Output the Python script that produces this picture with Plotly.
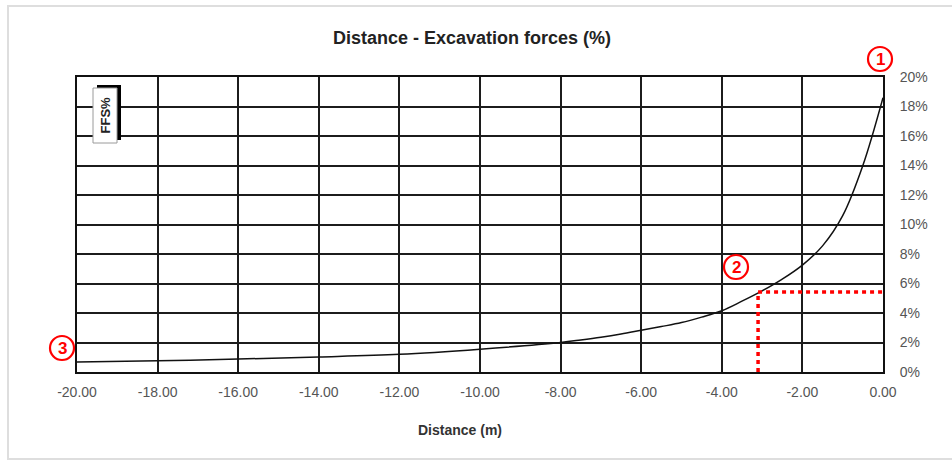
import plotly.graph_objects as go

# Excavation force ratio along the distance from the face
distance_m = [-20, -18, -16, -14, -12, -10, -8, -7.5, -7, -6.5, -6, -5.5,
              -5, -4.5, -4, -3.5, -3, -2.5, -2, -1.5, -1, -0.5, 0]
force_pct = [0.68, 0.76, 0.88, 1.02, 1.2, 1.55, 2.0, 2.17, 2.36, 2.58, 2.83,
             3.08, 3.35, 3.72, 4.15, 4.8, 5.5, 6.3, 7.25, 8.55, 10.6, 14.0,
             18.6]

x_ticks = [-20, -18, -16, -14, -12, -10, -8, -6, -4, -2, 0]
y_ticks = [0, 2, 4, 6, 8, 10, 12, 14, 16, 18, 20]

# Reading marker on the curve
read_x = -3.1
read_y = 5.42

W, H = 952, 462
L, R, T, B = 77, 69, 77, 90
PW, PH = W - L - R, H - T - B


def px(xp):
    return (xp - L) / PW


def py(yp):
    return (H - B - yp) / PH


FONT = "Liberation Sans, Arial, sans-serif"

fig = go.Figure()
fig.add_trace(go.Scatter(
    x=distance_m, y=force_pct, mode="lines",
    line=dict(color="#111111", width=1.5, shape="spline", smoothing=1.0),
    showlegend=False, hoverinfo="skip",
))

axis_common = dict(
    showgrid=True, gridcolor="#1c1c1c", gridwidth=1.6,
    showline=True, linecolor="#111111", linewidth=2, mirror=True,
    zeroline=False, ticks="", fixedrange=True,
    tickfont=dict(family=FONT, size=14, color="#555555"),
)

fig.update_xaxes(
    range=[-20, 0], tickvals=x_ticks,
    ticktext=[f"{v:.2f}" for v in x_ticks],
    ticklabelstandoff=6, **axis_common,
)
fig.update_yaxes(
    range=[0, 20], side="right", tickvals=y_ticks,
    ticktext=[f"{v}%" for v in y_ticks],
    ticklabelstandoff=12, **axis_common,
)

shapes = []
# outer light frame
shapes.append(dict(type="rect", xref="paper", yref="paper",
                   x0=px(8), x1=px(956), y0=py(459), y1=py(6),
                   line=dict(color="#dedede", width=2), layer="below"))
# dotted reading lines
shapes.append(dict(type="line", xref="x", yref="y", x0=read_x, x1=read_x,
                   y0=0, y1=read_y,
                   line=dict(color="#ff0000", width=3.5, dash="4px,4px")))
shapes.append(dict(type="line", xref="x", yref="y", x0=read_x, x1=0,
                   y0=read_y, y1=read_y,
                   line=dict(color="#ff0000", width=3.5, dash="4px,4px")))
# FFS% legend box with shadow
shapes.append(dict(type="rect", xref="paper", yref="paper",
                   x0=px(97), x1=px(121), y0=py(140), y1=py(85),
                   fillcolor="#000000", line=dict(width=0), layer="above"))
shapes.append(dict(type="rect", xref="paper", yref="paper",
                   x0=px(93), x1=px(117), y0=py(143), y1=py(88),
                   fillcolor="#ffffff", line=dict(color="#9a9a9a", width=1),
                   layer="above"))

# circled reference numbers
circles = [("1", 880, 59), ("2", 736, 267), ("3", 62, 348)]
annotations = []
for label, cx, cy in circles:
    shapes.append(dict(type="circle", xref="paper", yref="paper",
                       xsizemode="pixel", ysizemode="pixel",
                       xanchor=px(cx), yanchor=py(cy),
                       x0=-12, x1=12, y0=-12, y1=12,
                       line=dict(color="#ff0000", width=2.2)))
    annotations.append(dict(text=f"<b>{label}</b>", xref="paper", yref="paper",
                            x=px(cx), y=py(cy + 0.5), showarrow=False,
                            xanchor="center", yanchor="middle",
                            font=dict(family=FONT, size=17, color="#ff0000")))

annotations.append(dict(text="<b>FFS%</b>", xref="paper", yref="paper",
                        x=px(105), y=py(115.5), showarrow=False, textangle=-90,
                        xanchor="center", yanchor="middle",
                        font=dict(family=FONT, size=13, color="#222222")))
annotations.append(dict(text="<b>Distance - Excavation forces (%)</b>",
                        xref="paper", yref="paper", x=px(472), y=py(38),
                        showarrow=False, xanchor="center", yanchor="middle",
                        font=dict(family=FONT, size=18, color="#222222")))
annotations.append(dict(text="<b>Distance (m)</b>",
                        xref="paper", yref="paper", x=px(460), y=py(430),
                        showarrow=False, xanchor="center", yanchor="middle",
                        font=dict(family=FONT, size=14, color="#333333")))

fig.update_layout(
    width=W, height=H, autosize=False,
    margin=dict(l=L, r=R, t=T, b=B, pad=0),
    paper_bgcolor="#ffffff", plot_bgcolor="#ffffff",
    shapes=shapes, annotations=annotations, showlegend=False,
)

fig.write_html("out.html")
